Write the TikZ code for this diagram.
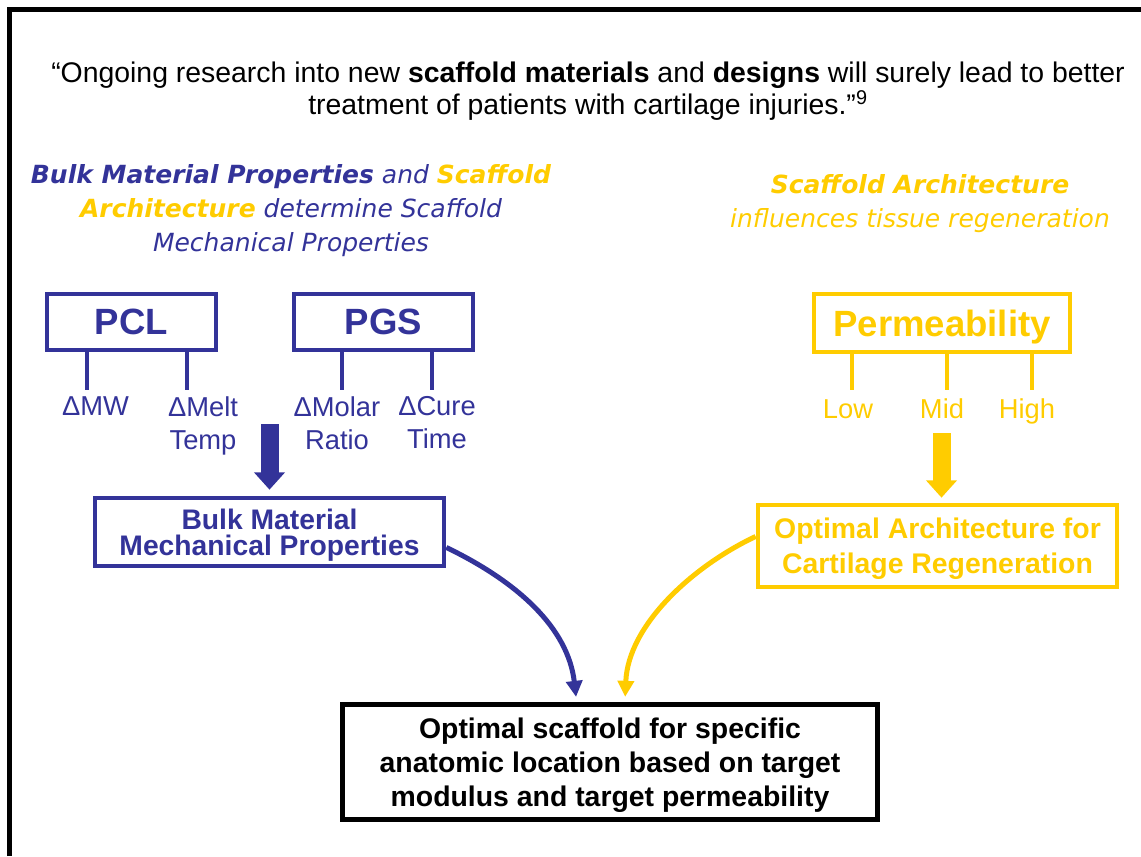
\documentclass[tikz,border=0pt]{standalone}
\usepackage{fontspec}
\setmainfont{Liberation Sans}
\newfontfamily\headfont{DejaVu Sans}
\usetikzlibrary{arrows.meta, positioning}
\definecolor{matblue}{HTML}{333399}
\definecolor{archyellow}{HTML}{FFCC00}

\begin{document}
\begin{tikzpicture}[
    x=0.75pt, y=-0.75pt,
    outerframe/.style={
        line width=3.75pt,
    },
    quotetext/.style={
        font=\fontsize{21.3}{24}\selectfont,
        align=center,
        inner sep=0pt,
        anchor=north,
    },
    headtext/.style={
        font=\headfont\itshape\fontsize{18.75}{25.5}\selectfont,
        align=center,
        inner sep=0pt,
        anchor=north,
    },
    topbox/.style={
        draw,
        line width=3.5pt,
        font=\bfseries\fontsize{27.4}{30}\selectfont,
        inner sep=0pt,
        text depth=0pt,
    },
    midbox/.style={
        draw,
        line width=3.5pt,
        font=\bfseries\fontsize{21.2}{19.5}\selectfont,
        align=center,
        inner sep=0pt,
        text depth=0pt,
    },
    param/.style={
        font=\fontsize{20.5}{24.75}\selectfont,
        align=center,
        inner sep=0pt,
    },
    tickline/.style={
        line width=3.5pt,
    },
    fatarrow/.style={
        line width=13.5pt,
        -{Triangle[width=22.5pt, length=13pt]},
    },
    curvearrow/.style={
        line width=3.75pt,
        -{Triangle[width=12pt, length=12pt]},
        shorten >=3.75pt,
    }
]
    \useasboundingbox (0,0) rectangle (1141,856);

    % Frame
    \draw[outerframe] (9.5,856) -- (9.5,10) -- (1141,10);

    % Quote
    \node[quotetext] (quote) at (588,62) {``Ongoing research into new \textbf{scaffold materials} and \textbf{designs} will surely lead to better\\treatment of patients with cartilage injuries.''\textsuperscript{9}};

    % Headings
    \node[headtext, text=matblue] (mathead) at (291,164) {\textbf{Bulk Material Properties} and \textcolor{archyellow}{\textbf{Scaffold}}\\\textcolor{archyellow}{\textbf{Architecture}} determine Scaffold\\Mechanical Properties};
    \node[headtext, text=archyellow] (archhead) at (920,174) {\textbf{Scaffold Architecture}\\influences tissue regeneration};

    % Materials
    \node[topbox, draw=matblue, text=matblue, minimum width=126.75pt, minimum height=42pt] (pcl) at (131.5,322) {PCL};
    \node[topbox, draw=matblue, text=matblue, minimum width=134.25pt, minimum height=42pt] (pgs) at (383.5,322) {PGS};
    \node[topbox, draw=archyellow, text=archyellow, minimum width=192pt, minimum height=43.5pt] (perm) at (942,323) {Permeability};

    % Parameters
    \node[param, text=matblue, anchor=base] (mw) at (95.5,415) {ΔMW};
    \node[param, text=matblue, anchor=north] (melt) at (203,396) {ΔMelt\\Temp};
    \node[param, text=matblue, anchor=north] (molar) at (337,396) {ΔMolar\\Ratio};
    \node[param, text=matblue, anchor=north] (cure) at (437,396) {ΔCure\\Time};
    \node[param, text=archyellow, anchor=base] (low) at (848,418) {Low};
    \node[param, text=archyellow, anchor=base] (mid) at (942,418) {Mid};
    \node[param, text=archyellow, anchor=base] (high) at (1027,418) {High};

    % Ticks
    \coordinate (mw tick) at (87,390);
    \coordinate (melt tick) at (187,390);
    \coordinate (molar tick) at (342,390);
    \coordinate (cure tick) at (432,390);
    \coordinate (low tick) at (852,390);
    \coordinate (mid tick) at (947,390);
    \coordinate (high tick) at (1032,390);
    \draw[tickline, matblue] (pcl.south -| mw tick) -- (mw tick);
    \draw[tickline, matblue] (pcl.south -| melt tick) -- (melt tick);
    \draw[tickline, matblue] (pgs.south -| molar tick) -- (molar tick);
    \draw[tickline, matblue] (pgs.south -| cure tick) -- (cure tick);
    \draw[tickline, archyellow] (perm.south -| low tick) -- (low tick);
    \draw[tickline, archyellow] (perm.south -| mid tick) -- (mid tick);
    \draw[tickline, archyellow] (perm.south -| high tick) -- (high tick);

    % Outcomes
    \node[midbox, draw=matblue, text=matblue, minimum width=261.75pt, minimum height=51pt] (bulk) at (269.5,532) {Bulk Material\\Mechanical Properties};
    \node[midbox, draw=archyellow, text=archyellow, font=\bfseries\fontsize{21.3}{26.25}\selectfont, minimum width=269.25pt, minimum height=61.5pt] (optarch) at (937.5,546) {Optimal Architecture for\\Cartilage Regeneration};
    \node[midbox, line width=4pt, font=\bfseries\fontsize{21.3}{25.5}\selectfont, text depth=-4pt, minimum width=401.25pt, minimum height=86.25pt] (result) at (610,762) {Optimal scaffold for specific\\anatomic location based on target\\modulus and target permeability};

    % Fat arrows
    \coordinate (bulk feed) at (269.5,424);
    \coordinate (arch feed) at (941.5,433);
    \draw[fatarrow, matblue, shorten >=4.5pt] (bulk feed) -- (bulk.north);
    \draw[fatarrow, archyellow, shorten >=3.75pt] (arch feed) -- (optarch.north -| arch feed);

    % Curved arrows
    \draw[curvearrow, matblue] (bulk.-5) .. controls (518,582) and (568,628) .. (result.119);
    \draw[curvearrow, archyellow] (optarch.177) .. controls (693,566) and (628,625) .. (result.76);
\end{tikzpicture}
\end{document}
